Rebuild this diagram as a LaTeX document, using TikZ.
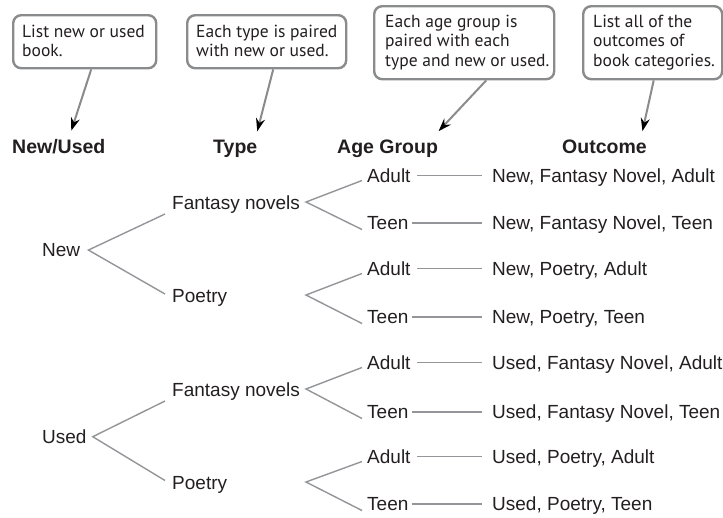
\documentclass[tikz,border=0pt]{standalone}
\usepackage{fontspec}
\setmainfont{Liberation Sans}
\newfontfamily\boxfont{PT Sans}
\usetikzlibrary{arrows.meta,calc}
\definecolor{ink}{HTML}{231F20}
\definecolor{branch}{HTML}{939598}
\definecolor{frame}{HTML}{898B8D}
\begin{document}
\begin{tikzpicture}[x=1pt,y=-1pt,
  treetext/.style={inner sep=0pt, anchor=base west, text=ink, font=\fontsize{19}{23}\selectfont},
  headtext/.style={inner sep=0pt, anchor=base west, text=ink, font=\fontsize{19.5}{23}\selectfont\bfseries},
  notebox/.style={draw=frame, line width=2.4pt, rounded corners=8pt, fill=white, anchor=north west, inner sep=0pt},
  notetext/.style={inner sep=0pt, anchor=north west, align=left, text=ink, font=\boxfont\fontsize{17.5}{19.7}\selectfont},
  branchline/.style={draw=branch, line width=1.4pt},
  rowline/.style={draw=branch, line width=1.4pt},
  pointer/.style={draw=frame, line width=2pt, -{Stealth[length=13pt,width=9pt,color=black]}}
]
\useasboundingbox (0,0) rectangle (723,517);

% note boxes
\node[notebox, minimum width=143pt, minimum height=53pt] (b1) at (12,14) {};
\node[notebox, minimum width=159pt, minimum height=53pt] (b2) at (186,14) {};
\node[notebox, minimum width=180pt, minimum height=73pt] (b3) at (373,5) {};
\node[notebox, minimum width=139pt, minimum height=73pt] (b4) at (582,5) {};
\node[notetext] (n1) at (22,24.5) {List new or used\\book.};
\node[notetext] (n2) at (196,24.5) {Each type is paired\\with new or used.};
\node[notetext] (n3) at (385,14.5) {Each age group is\\paired with each\\type and new or used.};
\node[notetext] (n4) at (593,14.5) {List all of the\\outcomes of\\book categories.};

% headings
\node[headtext] (h1) at (12,153) {New/Used};
\node[headtext] (h2) at (213,153) {Type};
\node[headtext] (h3) at (337,153) {Age Group};
\node[headtext] (h4) at (562,153) {Outcome};

\draw[pointer] ([xshift=6.5pt]b1.south) -- ([xshift=12.5pt,yshift=8pt]h1.north);
\draw[pointer] ([xshift=6.5pt]b2.south) -- ([xshift=22pt,yshift=8pt]h2.north);
\draw[pointer] ([xshift=22pt]b3.south) -- ([xshift=51pt,yshift=8pt]h3.north);
\draw[pointer] ([xshift=1pt]b4.south) -- ([xshift=38pt,yshift=8pt]h4.north);

% first level
\node[treetext] (nw) at (42,256.5) {New};
\node[treetext] (us) at (42,443.5) {Used};

% second level
\node[treetext] (fn1) at (172,209.5) {Fantasy novels};
\node[treetext] (p1) at (172,302.5) {Poetry};
\node[treetext] (fn2) at (172,396.5) {Fantasy novels};
\node[treetext] (p2) at (172,489.5) {Poetry};
\coordinate (fa1) at (306,202);
\coordinate (pa1) at (306,295);
\coordinate (fa2) at (306,389);
\coordinate (pa2) at (306,482);

% third level
\node[treetext] (a1) at (367,182.5) {Adult};
\node[treetext] (t1) at (367,229.5) {Teen};
\node[treetext] (a2) at (367,275.5) {Adult};
\node[treetext] (t2) at (367,323.5) {Teen};
\node[treetext] (a3) at (367,369.5) {Adult};
\node[treetext] (t3) at (367,418.5) {Teen};
\node[treetext] (a4) at (367,463.5) {Adult};
\node[treetext] (t4) at (367,510.5) {Teen};

% outcomes
\node[treetext] (o1) at (492,182.5) {New, Fantasy Novel, Adult};
\node[treetext] (o2) at (492,229.5) {New, Fantasy Novel, Teen};
\node[treetext] (o3) at (492,275.5) {New, Poetry, Adult};
\node[treetext] (o4) at (492,323.5) {New, Poetry, Teen};
\node[treetext] (o5) at (492,369.5) {Used, Fantasy Novel, Adult};
\node[treetext] (o6) at (492,418.5) {Used, Fantasy Novel, Teen};
\node[treetext] (o7) at (492,463.5) {Used, Poetry, Adult};
\node[treetext] (o8) at (492,510.5) {Used, Poetry, Teen};

% branches level 1
\draw[branchline] ([xshift=-7pt,yshift=-4.5pt]fn1.base west) -- ([xshift=8pt]nw.east) -- ([xshift=-7pt,yshift=8.5pt]p1.base west);
\draw[branchline] ([xshift=-7pt,yshift=-4.5pt]fn2.base west) -- ([xshift=6pt]us.east) -- ([xshift=-7pt,yshift=9pt]p2.base west);

% branches level 2
\draw[branchline] ([xshift=-5pt,yshift=2pt]a1.base west) -- (fa1) -- ([xshift=-5pt]t1.base west);
\draw[branchline] ([xshift=-5pt,yshift=2pt]a2.base west) -- (pa1) -- ([xshift=-5pt]t2.base west);
\draw[branchline] ([xshift=-5pt,yshift=2pt]a3.base west) -- (fa2) -- ([xshift=-5pt]t3.base west);
\draw[branchline] ([xshift=-5pt,yshift=2pt]a4.base west) -- (pa2) -- ([xshift=-5pt]t4.base west);

% rows
\foreach \a/\o in {a1/o1,a2/o3,a3/o5,a4/o7}{
  \draw[rowline] ([xshift=6.5pt]\a.east) -- ($(\a.east -| \o.west)+(-10,0)$);
}
\foreach \t/\o in {t1/o2,t2/o4,t3/o6,t4/o8}{
  \draw[rowline] ([xshift=3pt]\t.east) -- ($(\t.east -| \o.west)+(-10,0)$);
}
\end{tikzpicture}
\end{document}
